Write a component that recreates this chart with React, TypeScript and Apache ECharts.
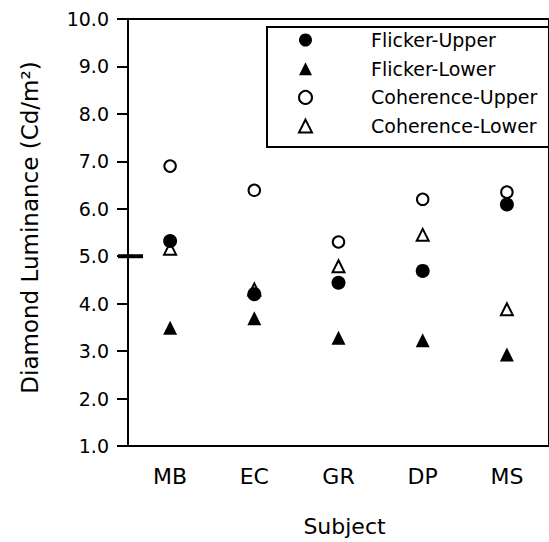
import React, { useEffect, useRef } from "react";
import * as echarts from "echarts";

// ---- data ----
const categories = ["MB", "EC", "GR", "DP", "MS"];
const flickerUpper = [5.32, 4.2, 4.44, 4.69, 6.09];
const flickerLower = [3.49, 3.69, 3.28, 3.23, 2.93];
const coherenceUpper = [6.9, 6.39, 5.3, 6.2, 6.35];
const coherenceLower = [5.16, 4.3, 4.79, 5.45, 3.88];
const yMin = 1;
const yMax = 10;
const yInterval = 1;
const referenceLevel = 5.0;

const FONT = "DejaVu Sans";
const GRID_LEFT = 128;

export default function App() {
  const ref = useRef<HTMLDivElement>(null);

  useEffect(() => {
    if (!ref.current) return;
    const chart = echarts.init(ref.current, undefined, { renderer: "svg" });
    const openStyle = { color: "#fff", borderColor: "#000", borderWidth: 2, opacity: 1 };
    const filledStyle = { color: "#000", opacity: 1 };
    chart.setOption({
      animation: false,
      backgroundColor: "#fff",
      grid: {
        left: GRID_LEFT,
        top: 19,
        width: 426,
        height: 428,
        show: true,
        borderColor: "#000",
        borderWidth: 2,
        backgroundColor: "transparent",
      },
      legend: {
        orient: "vertical",
        left: 267,
        top: 27,
        itemWidth: 13,
        itemHeight: 13,
        itemGap: 8.7,
        padding: [3, 15, 11, 31],
        borderColor: "#000",
        borderWidth: 2,
        selectedMode: false,
        textStyle: {
          fontFamily: FONT,
          fontSize: 19,
          color: "#000",
          lineHeight: 20,
          padding: [0, 0, 0, 54],
        },
        data: ["Flicker-Upper", "Flicker-Lower", "Coherence-Upper", "Coherence-Lower"],
      },
      xAxis: {
        type: "category",
        data: categories,
        boundaryGap: true,
        name: "Subject",
        nameLocation: "middle",
        nameGap: 69,
        nameTextStyle: { fontFamily: FONT, fontSize: 22, color: "#000", padding: [0, 0, 0, 12] },
        axisLine: { lineStyle: { color: "#000", width: 2 } },
        axisTick: { alignWithLabel: true, length: 11, lineStyle: { color: "#000", width: 2 } },
        axisLabel: { fontFamily: FONT, fontSize: 22, color: "#000", margin: 19 },
        splitLine: { show: false },
      },
      yAxis: {
        type: "value",
        min: yMin,
        max: yMax,
        interval: yInterval,
        name: "Diamond Luminance (Cd/m²)",
        nameLocation: "middle",
        nameGap: 87,
        nameTextStyle: { fontFamily: FONT, fontSize: 23, color: "#000", padding: [0, 0, 0, 10] },
        axisLine: { show: true, lineStyle: { color: "#000", width: 2 } },
        axisTick: { show: true, length: 11, lineStyle: { color: "#000", width: 2 } },
        axisLabel: {
          fontFamily: FONT,
          fontSize: 19,
          color: "#000",
          margin: 19,
          formatter: (v: number) => v.toFixed(1),
        },
        splitLine: { show: false },
      },
      series: [
        {
          name: "Flicker-Upper",
          type: "scatter",
          data: flickerUpper,
          symbol: "circle",
          symbolSize: 14,
          itemStyle: filledStyle,
          z: 5,
        },
        {
          name: "Flicker-Lower",
          type: "scatter",
          data: flickerLower,
          symbol: "triangle",
          symbolSize: 14,
          itemStyle: filledStyle,
          z: 4,
        },
        {
          name: "Coherence-Upper",
          type: "scatter",
          data: coherenceUpper,
          symbol: "circle",
          symbolSize: 11.5,
          itemStyle: openStyle,
          z: 3,
        },
        {
          name: "Coherence-Lower",
          type: "scatter",
          data: coherenceLower,
          symbol: "triangle",
          symbolSize: 12,
          itemStyle: openStyle,
          z: 3,
        },
      ],
    });

    const yRef = chart.convertToPixel({ yAxisIndex: 0 }, referenceLevel) as number;
    chart.setOption({
      graphic: [
        {
          type: "line",
          shape: { x1: GRID_LEFT - 10, y1: yRef, x2: GRID_LEFT + 15, y2: yRef },
          style: { stroke: "#000", lineWidth: 4 },
          z: 10,
        },
      ],
    });

    return () => chart.dispose();
  }, []);

  return (
    <div
      ref={ref}
      style={{ position: "fixed", left: 0, top: 0, width: 549, height: 542, background: "#fff" }}
    />
  );
}
